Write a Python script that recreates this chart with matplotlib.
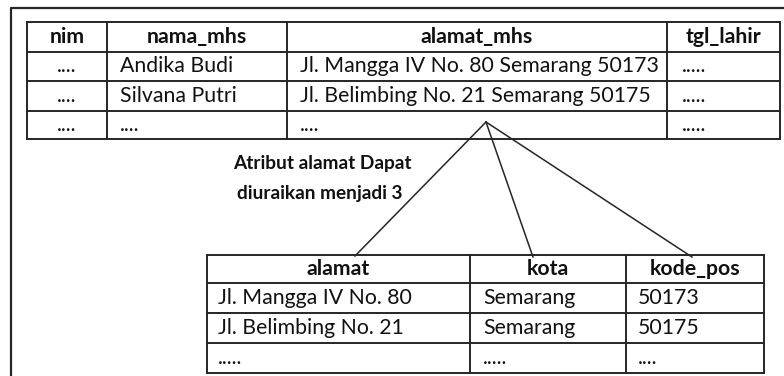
import matplotlib
matplotlib.use("Agg")
import matplotlib.pyplot as plt

# ---- data ----
top_columns = ["nim", "nama_mhs", "alamat_mhs", "tgl_lahir"]
top_rows = [
    ["....", "Andika Budi", "Jl. Mangga IV No. 80 Semarang 50173", "....."],
    ["....", "Silvana Putri", "Jl. Belimbing No. 21 Semarang 50175", "....."],
    ["....", "....", "....", "....."],
]
bottom_columns = ["alamat", "kota", "kode_pos"]
bottom_rows = [
    ["Jl. Mangga IV No. 80", "Semarang", "50173"],
    ["Jl. Belimbing No. 21", "Semarang", "50175"],
    [".....", ".....", "...."],
]
note_lines = ["Atribut alamat Dapat", "diuraikan menjadi 3"]

# ---- layout (pixel coordinates) ----
W, H = 784, 376
top_x = [27, 107, 287, 667, 780]
top_y = [22, 52, 81, 111, 139]
top_align = ["center", "left", "left", "left"]
bot_x = [207, 470, 626, 764]
bot_y = [255, 283, 313, 343, 373]
apex = (486, 122)
targets = [(355, 256), (533, 257), (692, 257)]

FONT = ["Lato", "DejaVu Sans"]
FS = 15.3
LC = "#262626"
LW = 1.4

fig = plt.figure(figsize=(W / 100, H / 100), dpi=100)
ax = fig.add_axes([0, 0, 1, 1])
ax.set_xlim(0, W)
ax.set_ylim(H, 0)
ax.axis("off")

# outer frame (extends past the right/bottom edges)
ax.plot([11, 11, W + 10], [H + 10, 8, 8], color=LC, lw=1.6, solid_capstyle="butt")


def draw_table(xs, ys, header, rows, aligns, pad):
    for x in xs:
        ax.plot([x, x], [ys[0], ys[-1]], color=LC, lw=LW, solid_capstyle="projecting")
    for y in ys:
        ax.plot([xs[0], xs[-1]], [y, y], color=LC, lw=LW, solid_capstyle="projecting")
    for j, name in enumerate(header):
        cx = (xs[j] + xs[j + 1]) / 2
        cy = (ys[0] + ys[1]) / 2
        ax.text(cx, cy, name, ha="center", va="center", fontsize=FS,
                fontweight="bold", family=FONT, color="#111111")
    for i, row in enumerate(rows):
        cy = (ys[i + 1] + ys[i + 2]) / 2
        for j, val in enumerate(row):
            if aligns[j] == "center":
                tx, ha = (xs[j] + xs[j + 1]) / 2, "center"
            else:
                tx, ha = xs[j] + pad[j], "left"
            ax.text(tx, cy, val, ha=ha, va="center", fontsize=FS,
                    family=FONT, color="#111111")


draw_table(top_x, top_y, top_columns, top_rows, top_align, [0, 13, 13, 15])
draw_table(bot_x, bot_y, bottom_columns, bottom_rows, ["left"] * 3, [11, 13, 12])

# decomposition lines
for tx, ty in targets:
    ax.plot([apex[0], tx], [apex[1], ty], color=LC, lw=1.1)

# note text
ax.text(233, 164, note_lines[0], ha="left", va="center", fontsize=13.7,
        fontweight="bold", family=FONT, color="#111111")
ax.text(237, 193, note_lines[1], ha="left", va="center", fontsize=13.7,
        fontweight="bold", family=FONT, color="#111111")

fig.savefig("out.png", dpi=100, facecolor="white")
